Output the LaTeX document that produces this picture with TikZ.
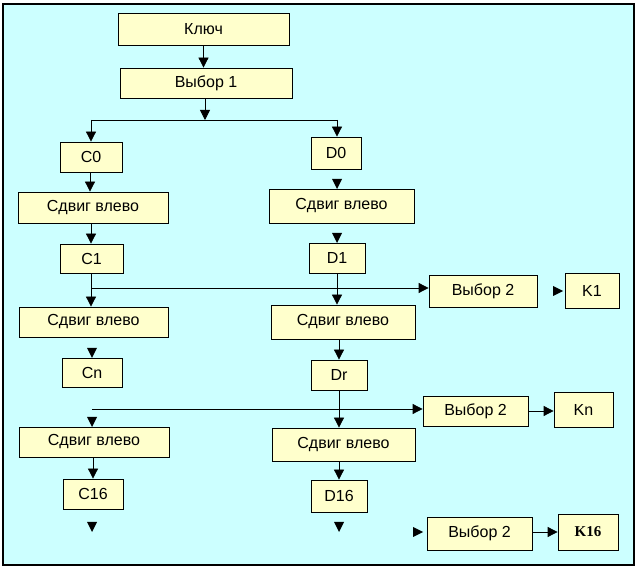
\documentclass[tikz,border=0pt]{standalone}
\usepackage{fontspec}
\setmainfont{Liberation Sans}
\newfontfamily\kserif{Liberation Serif}
\usetikzlibrary{arrows.meta}
\definecolor{bgcyan}{RGB}{204,255,255}
\definecolor{boxyellow}{RGB}{255,255,204}
\begin{document}
\begin{tikzpicture}[x=1pt,y=-1pt,
  box/.style={draw=black,line width=0.8pt,fill=boxyellow,inner sep=0pt,
    font=\fontsize{16}{18}\selectfont},
  arr/.style={draw=black,line width=0.8pt,-{Triangle[width=10pt,length=10pt]}},
  conn/.style={draw=black,line width=0.8pt},
  tipdown/.pic={\fill[black] (-5,-10) -- (5,-10) -- (0,0) -- cycle;},
  tipright/.pic={\fill[black] (-10,-5) -- (-10,5) -- (0,0) -- cycle;}]
\useasboundingbox (0,0) rectangle (638,569);
\draw[fill=bgcyan,line width=1.2pt] (3,4) rectangle (634,565);
% boxes
\node[box,minimum width=171pt,minimum height=32pt] (key) at (203.5,29) {Ключ};
\node[box,minimum width=172pt,minimum height=30pt] (v1) at (206,83) {Выбор 1};
\node[box,minimum width=62pt,minimum height=30pt] (c0) at (91,157) {C0};
\node[box,minimum width=50pt,minimum height=32pt] (d0) at (336,153) {D0};
\node[box,minimum width=150pt,minimum height=31pt] (cs1) at (93,207.5) {Сдвиг влево};
\node[box,minimum width=145pt,minimum height=34pt] (ds1) at (341.5,206) {Сдвиг влево};
\node[box,minimum width=63pt,minimum height=29pt] (c1) at (91.5,258.5) {C1};
\node[box,minimum width=56pt,minimum height=30pt] (d1) at (337,258) {D1};
\node[box,minimum width=108pt,minimum height=32pt] (v2a) at (483,291) {Выбор 2};
\node[box,minimum width=54pt,minimum height=35pt] (k1) at (592,290.5) {K1};
\node[box,minimum width=149pt,minimum height=30pt] (cs2) at (93.5,322) {Сдвиг влево};
\node[box,minimum width=144pt,minimum height=34pt] (ds2) at (343,322) {Сдвиг влево};
\node[box,minimum width=60pt,minimum height=29pt] (cn) at (92,372.5) {Cn};
\node[box,minimum width=56pt,minimum height=30pt] (dr) at (339,375) {Dr};
\node[box,minimum width=105pt,minimum height=30pt] (v2b) at (475.5,411) {Выбор 2};
\node[box,minimum width=59pt,minimum height=35pt] (kn) at (583.5,409.5) {Kn};
\node[box,minimum width=150pt,minimum height=30pt] (cs3) at (94,442) {Сдвиг влево};
\node[box,minimum width=143pt,minimum height=33pt] (ds3) at (343.5,444.5) {Сдвиг влево};
\node[box,minimum width=60pt,minimum height=30pt] (c16) at (93,494) {C16};
\node[box,minimum width=56pt,minimum height=32pt] (d16) at (339,496) {D16};
\node[box,minimum width=105pt,minimum height=33pt] (v2c) at (479.5,533.5) {Выбор 2};
\node[box,minimum width=60pt,minimum height=36pt,font=\kserif\bfseries\fontsize{15}{17}\selectfont] (k16) at (588,532) {K16};
% coordinates
\coordinate (j) at (205,120);
\coordinate (jl) at (91,120);
\coordinate (jr) at (337,120);
\coordinate (b1) at (91,288);
\coordinate (b2) at (92,409);
% connectors
\draw[arr] (key.south) -- (key.south |- v1.north);
\draw[arr] (v1.south -| j) -- (j);
\draw[conn] (jl) -- (jr);
\draw[arr] (jl) -- (jl |- c0.north);
\draw[arr] (jr) -- (jr |- d0.north);
\draw[arr] ([xshift=-1pt]c0.south) -- ([xshift=-1pt]c0.south |- cs1.north);
\pic at (337,189) {tipdown};
\pic at (337,243) {tipdown};
\draw[arr] (cs1.south -| b1) -- (c1.north -| b1);
\draw[arr] (c1.south -| b1) -- (cs2.north -| b1);
\draw[arr] ([xshift=1pt]b1) -- (b1 -| v2a.west);
\draw[arr] (d1.south) -- (d1.south |- ds2.north);
\pic at (563,291) {tipright};
\pic at (92,358) {tipdown};
\draw[arr] (ds2.south -| dr) -- (dr.north);
\draw[arr] (b2) -- (b2 -| v2b.west);
\pic at (92,427) {tipdown};
\draw[arr] (dr.south) -- (dr.south |- ds3.north);
\draw[arr] (v2b.east) -- (kn.west |- v2b.east);
\draw[arr] (cs3.south -| c16) -- (c16.north);
\draw[arr] (ds3.south -| d16) -- (d16.north);
\pic at (92,532) {tipdown};
\pic at (339,532) {tipdown};
\pic at (423,532) {tipright};
\draw[arr] (v2c.east |- k16.west) -- (k16.west);
\end{tikzpicture}
\end{document}
